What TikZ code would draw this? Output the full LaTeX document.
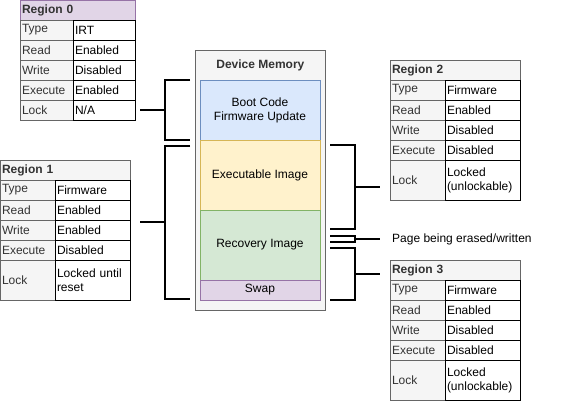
\documentclass[tikz,border=0pt]{standalone}
\usepackage{fontspec}
\setmainfont{Liberation Sans}
\usetikzlibrary{positioning}

\definecolor{ink}{HTML}{333333}
\definecolor{keyfill}{HTML}{F5F5F5}
\definecolor{keyline}{HTML}{666666}
\definecolor{purplefill}{HTML}{E1D5E7}
\definecolor{purpleline}{HTML}{9673A6}
\definecolor{bluefill}{HTML}{DAE8FC}
\definecolor{blueline}{HTML}{6C8EBF}
\definecolor{yellowfill}{HTML}{FFF2CC}
\definecolor{yellowline}{HTML}{D6B656}
\definecolor{greenfill}{HTML}{D5E8D4}
\definecolor{greenline}{HTML}{82B366}

\tikzset{
  every node/.style={font=\fontsize{12}{14}\selectfont},
  cell/.style={draw, line width=0.8pt, anchor=north west, minimum height=20pt,
    inner xsep=2pt, inner ysep=0pt, outer sep=0pt, align=left},
  keycell/.style={cell, fill=keyfill, draw=keyline, text=ink},
  valcell/.style={cell, fill=white, draw=black},
  hdrcell/.style={cell, fill=keyfill, draw=keyline, text=ink,
    font=\fontsize{12}{14}\selectfont\bfseries},
  membox/.style={draw, line width=0.8pt, anchor=north west, minimum width=120pt,
    inner sep=0pt, outer sep=0pt, align=center},
  brace/.style={draw, line width=2pt},
  link/.style={draw, line width=2pt}
}

\begin{document}
\begin{tikzpicture}[x=1pt, y=-1pt]
    \useasboundingbox (0,0) rectangle (571,401);

    % device memory
    \node[draw=keyline, fill=keyfill, line width=0.8pt, anchor=north west,
          minimum width=130pt, minimum height=260pt, inner sep=0pt,
          label={[anchor=north, yshift=-6pt, text=ink,
                  font=\fontsize{12}{14}\selectfont\bfseries]north:Device Memory}]
          (mem) at (195,50) {};
    \node[membox, fill=bluefill, draw=blueline, minimum height=60pt] (boot) at (200,80)
          {Boot Code\\Firmware Update};
    \node[membox, fill=yellowfill, draw=yellowline, minimum height=70pt] (exec) at (200,140)
          {Executable Image};
    \node[membox, fill=greenfill, draw=greenline, minimum height=70pt] (recov) at (200,210)
          {Recovery Image};
    \node[membox, fill=purplefill, draw=purpleline, minimum height=20pt] (swap) at (200,280)
          {Swap};

    % region 0
    \node[hdrcell, fill=purplefill, draw=purpleline, text width=111pt] (r0h) at (20,0) {Region 0};
    \node[keycell, text width=49pt] (r0a) at (r0h.south west) {Type};
    \node[valcell, text width=58pt] (r0A) at (r0a.north east) {IRT};
    \node[keycell, text width=49pt] (r0b) at (r0a.south west) {Read};
    \node[valcell, text width=58pt] (r0B) at (r0b.north east) {Enabled};
    \node[keycell, text width=49pt] (r0c) at (r0b.south west) {Write};
    \node[valcell, text width=58pt] (r0C) at (r0c.north east) {Disabled};
    \node[keycell, text width=49pt] (r0d) at (r0c.south west) {Execute};
    \node[valcell, text width=58pt] (r0D) at (r0d.north east) {Enabled};
    \node[keycell, text width=49pt] (r0e) at (r0d.south west) {Lock};
    \node[valcell, text width=58pt] (r0E) at (r0e.north east) {N/A};

    % region 1
    \node[hdrcell, text width=126pt] (r1h) at (0,160) {Region 1};
    \node[keycell, text width=51pt] (r1a) at (r1h.south west) {Type};
    \node[valcell, text width=71pt] (r1A) at (r1a.north east) {Firmware};
    \node[keycell, text width=51pt] (r1b) at (r1a.south west) {Read};
    \node[valcell, text width=71pt] (r1B) at (r1b.north east) {Enabled};
    \node[keycell, text width=51pt] (r1c) at (r1b.south west) {Write};
    \node[valcell, text width=71pt] (r1C) at (r1c.north east) {Enabled};
    \node[keycell, text width=51pt] (r1d) at (r1c.south west) {Execute};
    \node[valcell, text width=71pt] (r1D) at (r1d.north east) {Disabled};
    \node[keycell, text width=51pt, minimum height=40pt] (r1e) at (r1d.south west) {Lock};
    \node[valcell, text width=71pt, minimum height=40pt] (r1E) at (r1e.north east) {Locked until\\reset};

    % region 2
    \node[hdrcell, text width=126pt] (r2h) at (390,60) {Region 2};
    \node[keycell, text width=51pt] (r2a) at (r2h.south west) {Type};
    \node[valcell, text width=71pt] (r2A) at (r2a.north east) {Firmware};
    \node[keycell, text width=51pt] (r2b) at (r2a.south west) {Read};
    \node[valcell, text width=71pt] (r2B) at (r2b.north east) {Enabled};
    \node[keycell, text width=51pt] (r2c) at (r2b.south west) {Write};
    \node[valcell, text width=71pt] (r2C) at (r2c.north east) {Disabled};
    \node[keycell, text width=51pt] (r2d) at (r2c.south west) {Execute};
    \node[valcell, text width=71pt] (r2D) at (r2d.north east) {Disabled};
    \node[keycell, text width=51pt, minimum height=40pt] (r2e) at (r2d.south west) {Lock};
    \node[valcell, text width=71pt, minimum height=40pt] (r2E) at (r2e.north east) {Locked\\(unlockable)};

    % region 3
    \node[hdrcell, text width=126pt] (r3h) at (390,260) {Region 3};
    \node[keycell, text width=51pt] (r3a) at (r3h.south west) {Type};
    \node[valcell, text width=71pt] (r3A) at (r3a.north east) {Firmware};
    \node[keycell, text width=51pt] (r3b) at (r3a.south west) {Read};
    \node[valcell, text width=71pt] (r3B) at (r3b.north east) {Enabled};
    \node[keycell, text width=51pt] (r3c) at (r3b.south west) {Write};
    \node[valcell, text width=71pt] (r3C) at (r3c.north east) {Disabled};
    \node[keycell, text width=51pt] (r3d) at (r3c.south west) {Execute};
    \node[valcell, text width=71pt] (r3D) at (r3d.north east) {Disabled};
    \node[keycell, text width=51pt, minimum height=40pt] (r3e) at (r3d.south west) {Lock};
    \node[valcell, text width=71pt, minimum height=40pt] (r3E) at (r3e.north east) {Locked\\(unlockable)};

    % page note
    \node[anchor=west, inner sep=2pt] (page) at (390,239) {Page being erased/written};

    % brackets
    \draw[brace] (190,80) -- (165,80) -- (165,140) -- (190,140);
    \coordinate (b0) at (165,110);
    \draw[brace] (190,146) -- (165,146) -- (165,299) -- (190,299);
    \coordinate (b1) at (165,222);
    \draw[brace] (330,145) -- (355,145) -- (355,229) -- (330,229);
    \coordinate (b2) at (355,187);
    \draw[brace] (330,236) -- (355,236) -- (355,242) -- (330,242);
    \coordinate (bp) at (355,239);
    \draw[brace] (330,248) -- (355,248) -- (355,300) -- (330,300);
    \coordinate (b3) at (355,274);

    % ticks
    \path[link, shorten >=5pt] (b0) -- (r0E.east);
    \path[link, shorten >=10pt] (b1) -- (b1 -| r1E.east);
    \path[link, shorten >=10pt] (b2) -- (b2 -| r2e.west);
    \path[link, shorten >=10pt] (bp) -- (page.west);
    \path[link, shorten >=10pt] (b3) -- (b3 -| r3e.west);
\end{tikzpicture}
\end{document}
